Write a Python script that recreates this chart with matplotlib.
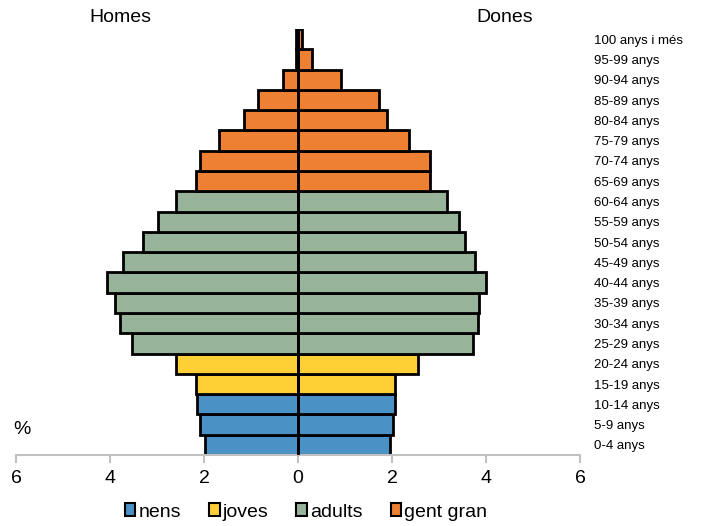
import matplotlib
matplotlib.use("Agg")
import matplotlib.pyplot as plt
from matplotlib.patches import Patch
import numpy as np

plt.rcParams['font.family'] = ['Liberation Sans', 'DejaVu Sans']

age_labels = ["0-4 anys", "5-9 anys", "10-14 anys", "15-19 anys", "20-24 anys",
              "25-29 anys", "30-34 anys", "35-39 anys", "40-44 anys", "45-49 anys",
              "50-54 anys", "55-59 anys", "60-64 anys", "65-69 anys", "70-74 anys",
              "75-79 anys", "80-84 anys", "85-89 anys", "90-94 anys", "95-99 anys",
              "100 anys i més"]
homes = [1.98, 2.08, 2.15, 2.17, 2.60, 3.53, 3.79, 3.89, 4.06, 3.72,
         3.30, 2.98, 2.60, 2.17, 2.08, 1.68, 1.15, 0.85, 0.32, 0.04, 0.05]
dones = [1.96, 2.02, 2.06, 2.06, 2.55, 3.72, 3.84, 3.86, 3.99, 3.77,
         3.55, 3.42, 3.17, 2.80, 2.80, 2.36, 1.89, 1.72, 0.91, 0.30, 0.09]
groups = ["nens"] * 3 + ["joves"] * 2 + ["adults"] * 8 + ["gent gran"] * 8
group_names = ["nens", "joves", "adults", "gent gran"]
group_colors = {"nens": "#4A92C6", "joves": "#FFCF35", "adults": "#97B49A", "gent gran": "#ED8033"}
x_ticks = [-6, -4, -2, 0, 2, 4, 6]

fig = plt.figure(figsize=(7.03, 5.26), dpi=100)
ax = fig.add_axes([16/703, (526-455)/526, (580-16)/703, (455-29)/526])

y = np.arange(len(age_labels))
cols = [group_colors[g] for g in groups]
ax.barh(y, [-h for h in homes], height=1.0, color=cols, edgecolor="black", linewidth=2.0, zorder=2)
ax.barh(y, dones, height=1.0, color=cols, edgecolor="black", linewidth=2.0, zorder=2)
ax.axvline(0, color="black", linewidth=2.0, zorder=3)

ax.set_xlim(-6, 6)
ax.set_ylim(-0.5, len(age_labels) - 0.5)
ax.set_xticks(x_ticks)
ax.set_xticklabels([str(abs(v)) for v in x_ticks], fontsize=14)
for s in ["top", "left", "right"]:
    ax.spines[s].set_visible(False)
ax.spines["bottom"].set_color("#C0C0C0")
ax.spines["bottom"].set_linewidth(1.5)
ax.tick_params(axis="x", direction="out", length=6, width=1.5, color="#C0C0C0", pad=5)

ax.yaxis.tick_right()
ax.set_yticks(y)
ax.set_yticklabels(age_labels, fontsize=9.5)
ax.tick_params(axis="y", length=0, pad=10)

fig.text(120/703, 1 - 18/526, "Homes", fontsize=14, ha="center", va="center")
fig.text(505/703, 1 - 18/526, "Dones", fontsize=14, ha="center", va="center")
fig.text(22/703, 1 - 430/526, "%", fontsize=14, ha="center", va="center")

handles = [Patch(facecolor=group_colors[g], edgecolor="black", linewidth=1.5) for g in group_names]
fig.legend(handles, group_names, loc="center", bbox_to_anchor=(306/703, 1 - 512/526),
           ncol=4, frameon=False, fontsize=14, handlelength=0.55, handleheight=0.6,
           handletextpad=0.15, columnspacing=1.45, borderaxespad=0)

fig.savefig("out.png", dpi=100)
